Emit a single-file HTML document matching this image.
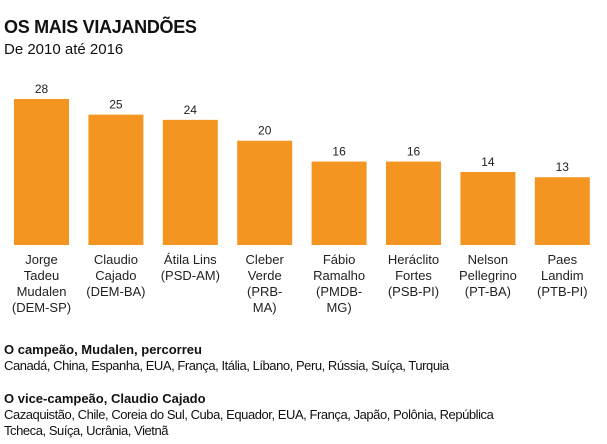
<!DOCTYPE html>
<html><head><meta charset="utf-8"><style>
body{margin:0;width:607px;height:444px;background:#fff;font-family:"Liberation Sans",Arial,sans-serif;color:#111;position:relative;overflow:hidden}
.t{position:absolute;left:4px;white-space:nowrap}
.b{letter-spacing:-0.45px}
</style></head><body>
<div class="t" style="top:17px;font-size:18px;font-weight:bold;letter-spacing:-0.3px">OS MAIS VIAJANDÕES</div>
<div class="t" style="top:41px;font-size:15px">De 2010 até 2016</div>
<svg id="chart" width="607" height="330" style="position:absolute;left:0;top:0"></svg>
<div class="t" style="top:342px;font-size:13px;font-weight:bold">O campeão, Mudalen, percorreu</div>
<div class="t b" style="top:358px;font-size:13px">Canadá, China, Espanha, EUA, França, Itália, Líbano, Peru, Rússia, Suíça, Turquia</div>
<div class="t" style="top:391px;font-size:13px;font-weight:bold">O vice-campeão, Claudio Cajado</div>
<div class="t b" style="top:407px;font-size:13px;line-height:16px">Cazaquistão, Chile, Coreia do Sul, Cuba, Equador, EUA, França, Japão, Polônia, República<br>Tcheca, Suíça, Ucrânia, Vietnã</div>
<script>
const names=[["Jorge","Tadeu","Mudalen","(DEM-SP)"],["Claudio","Cajado","(DEM-BA)"],["Átila Lins","(PSD-AM)"],["Cleber","Verde","(PRB-","MA)"],["Fábio","Ramalho","(PMDB-","MG)"],["Heráclito","Fortes","(PSB-PI)"],["Nelson","Pellegrino","(PT-BA)"],["Paes","Landim","(PTB-PI)"]];
const values=[28,25,24,20,16,16,14,13];
const NS="http://www.w3.org/2000/svg";
const svg=document.getElementById('chart');
const base=245, perUnit=146/28, x0=14, step=74.4, bw=55;
const y=v=>base-v*perUnit, x=i=>x0+i*step;
function mk(t,a){const e=document.createElementNS(NS,t);for(const k in a)e.setAttribute(k,a[k]);svg.appendChild(e);return e;}
values.forEach((v,i)=>{
  const r=mk('rect',{x:x(i),y:y(v),width:bw,height:base-y(v),fill:'#f39520'});
  
  
  const t=mk('text',{x:x(i)+bw/2,y:y(v)-6,'text-anchor':'middle','font-size':12,fill:'#222'});
  t.textContent=v;
  
  
  names[i].forEach((ln,j)=>{
    const c=mk('text',{x:x(i)+bw/2,y:264+j*16,'text-anchor':'middle','font-size':13,fill:'#222'});
    c.textContent=ln;
    
    
  });
});
</script>
</body></html>
